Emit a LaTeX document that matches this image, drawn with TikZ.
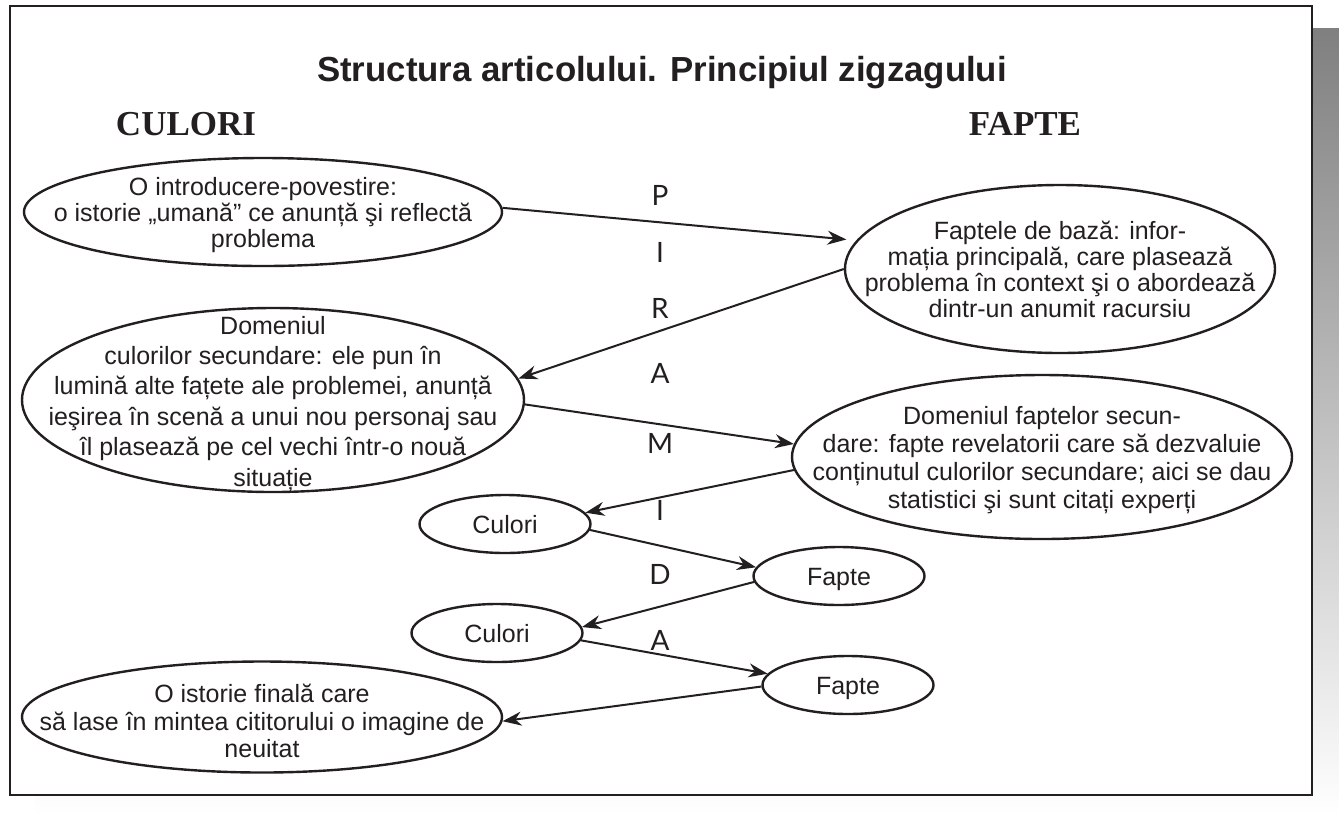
\documentclass[tikz,border=0pt]{standalone}
\usepackage{fontspec}
\setmainfont{Liberation Sans}
\newfontfamily\headfont{Liberation Serif}
\newfontfamily\letterfont{Lato}
\usepackage{tikz}
\usetikzlibrary{shapes.geometric, arrows.meta, positioning}
\definecolor{ink}{HTML}{231F20}
\definecolor{shade}{HTML}{BCBEC0}
\newcommand{\inbubble}[1]{\smash{\makebox[0pt]{\raisebox{-0.4em}{\begin{tabular}{@{}c@{}}#1\end{tabular}}}}}
\tikzstyle{bubble} = [ellipse, draw=ink, line width=1.2pt, inner sep=0pt, text=ink, font=\fontsize{12.5}{13.5}\selectfont]
\tikzstyle{small} = [bubble, minimum width=85.5pt, minimum height=29pt]
\tikzstyle{column} = [text=ink, font=\headfont\bfseries\fontsize{17.5}{20}\selectfont]
\tikzstyle{letter} = [text=ink, font=\letterfont\fontsize{14}{16}\selectfont]
\tikzstyle{arrow} = [-{Stealth[length=9.5pt, width=7pt]}, line width=1pt, draw=ink]

\begin{document}
\begin{tikzpicture}[x=0.5pt, y=-0.5pt]

    % frame
    \useasboundingbox (0,0) rectangle (1339,816);
    \fill[shade] (35,28) rectangle (1339,816);
    \draw[ink, line width=1.3pt, fill=white] (10,6) rectangle (1312,795);

    % nodes
    \node (title) at (662,73) [text=ink, font=\bfseries\fontsize{17.4}{20}\selectfont] {Structura articolului. Principiul zigzagului};
    \node (culori_head) [column, below of=title, node distance=25.5pt, xshift=-238pt] {CULORI};
    \node (fapte_head) [column, right of=culori_head, node distance=419.5pt] {FAPTE};
    \node (intro) [bubble, below of=culori_head, node distance=44pt, xshift=38.5pt, minimum width=239pt, minimum height=54pt, font=\fontsize{12.5}{12.6}\selectfont] {\inbubble{O introducere-povestire:\\ o istorie „umană” ce anunță şi reflectă\\ problema}};
    \node (base) [bubble, right of=intro, node distance=398.5pt, yshift=-28.5pt, minimum width=215pt, minimum height=84pt, font=\fontsize{12.5}{12.8}\selectfont] {\inbubble{Faptele de bază: infor-\\ mația principală, care plasează\\ problema în context şi o abordează\\ dintr-un anumit racursiu}};
    \node (domain) [bubble, below of=intro, node distance=94pt, xshift=5pt, minimum width=251pt, minimum height=92pt, font=\fontsize{12.5}{15.2}\selectfont] {\inbubble{Domeniul\\ culorilor secundare: ele pun în\\ lumină alte fațete ale problemei, anunță\\ ieşirea în scenă a unui nou personaj sau\\ îl plasează pe cel vechi într-o nouă\\ situație}};
    \node (facts) [bubble, below of=base, node distance=94pt, xshift=-9pt, minimum width=250pt, minimum height=82pt, font=\fontsize{12.5}{13.9}\selectfont] {\inbubble{Domeniul faptelor secun-\\ dare: fapte revelatorii care să dezvaluie\\ conținutul culorilor secundare; aici se dau\\ statistici şi sunt citați experți}};
    \node (culori_a) [small, below of=domain, node distance=62pt, xshift=116pt] {\inbubble{Culori}};
    \node (fapte_a) [small, right of=culori_a, node distance=167pt, yshift=-26pt] {\inbubble{Fapte}};
    \node (culori_b) [small, below of=culori_a, node distance=54.5pt, xshift=-4pt] {\inbubble{Culori}};
    \node (fapte_b) [small, below of=fapte_a, node distance=54.5pt, xshift=4.5pt] {\inbubble{Fapte}};
    \node (final) [bubble, below of=domain, node distance=158.5pt, xshift=-5.5pt, minimum width=240pt, minimum height=55.5pt, font=\fontsize{12.5}{13.8}\selectfont] {\raisebox{-3.5pt}{\inbubble{O istorie finală care\\ să lase în mintea cititorului o imagine de\\ neuitat}}};

    % piramida
    \node (p_letter) [letter, right of=intro, node distance=198.5pt, yshift=8.5pt] {P};
    \node (i_letter) [letter, below of=p_letter, node distance=28.5pt] {I};
    \node (r_letter) [letter, below of=i_letter, node distance=28pt] {R};
    \node (a_letter) [letter, below of=r_letter, node distance=32.5pt] {A};
    \node (m_letter) [letter, below of=a_letter, node distance=35pt] {M};
    \node (i2_letter) [letter, below of=m_letter, node distance=33.5pt] {I};
    \node (d_letter) [letter, below of=i2_letter, node distance=32pt] {D};
    \node (a2_letter) [letter, below of=d_letter, node distance=33pt] {A};

    % edges
    \draw [arrow, shorten >=5pt] (intro.1) -- (base.172);
    \draw [arrow] (base.180) -- (domain.5);
    \draw [arrow] (domain.-1) -- (facts.177);
    \draw [arrow] (facts.183) -- (culori_a.8);
    \draw [arrow] (culori_a.-4) -- (fapte_a.174);
    \draw [arrow] (fapte_a.184) -- (culori_b.4);
    \draw [arrow] (culori_b.-5) -- (fapte_b.172);
    \draw [arrow] (fapte_b.181) -- (final.-1);

\end{tikzpicture}
\end{document}
